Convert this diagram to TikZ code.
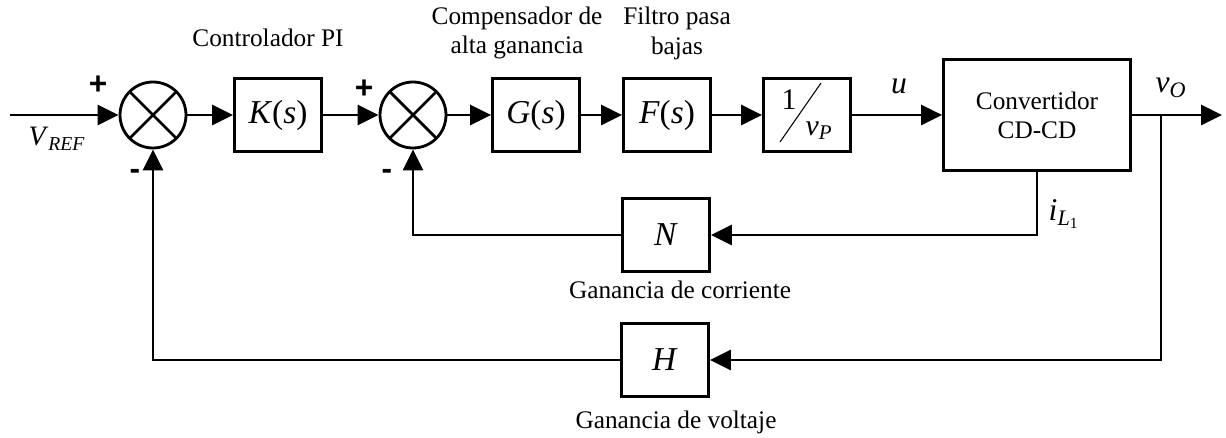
\documentclass[tikz,border=0pt]{standalone}
\usepackage{fontspec}
\setmainfont{Liberation Serif}
\newfontfamily\signfont{Liberation Sans}
\usetikzlibrary{arrows.meta,calc}

\begin{document}
\begin{tikzpicture}[
    x=0.02cm, y=-0.02cm, line width=1.6pt,
    >={Triangle[length=0.42cm,width=0.4cm]},
    block/.style={rectangle, draw, line width=1.6pt, minimum width=1.74cm, minimum height=1.46cm, inner sep=0pt, font=\fontsize{19}{22}\selectfont},
    sumnode/.style={circle, draw, line width=1.6pt, minimum size=1.32cm, inner sep=0pt,
        path picture={\draw[line width=1.6pt] (path picture bounding box.north west) -- (path picture bounding box.south east)
            (path picture bounding box.north east) -- (path picture bounding box.south west);}},
    lbl/.style={font=\fontsize{14.4}{17}\selectfont, align=center, inner sep=0pt},
    var/.style={font=\fontsize{18}{20}\selectfont, inner sep=0pt},
    sign/.style={font=\signfont\bfseries\fontsize{18}{18}\selectfont, inner sep=0pt}
]
\useasboundingbox (0,0) rectangle (1226,438);

% Forward path
\coordinate (in) at (10,115);
\node[sumnode] (s1) at (153,115) {};
\node[block] (K) at (278,115) {\textit{K}(\textit{s})};
\node[sumnode] (s2) at (413,115) {};
\node[block] (G) at (536,115) {\textit{G}(\textit{s})};
\node[block] (F) at (667,115) {\textit{F}(\textit{s})};
\node[block, font=\fontsize{17}{20}\selectfont] (P) at (807,115)
    {\raisebox{0.4em}{1}\hspace{0.3em}\raisebox{-0.45em}{\textit{v}\textsubscript{\textit{P}}}};
\draw[line width=0.6pt] ($(P)+(-27,27)$) -- ($(P)+(14,-32)$);
\node[block, minimum width=3.74cm, minimum height=2.22cm, font=\fontsize{14.4}{16.5}\selectfont, align=center] (C) at (1037,115)
    {Convertidor\\CD-CD};
\coordinate (br) at (1161,115);
\coordinate (out) at (1222,115);

% Feedback
\node[block] (N) at (666,235) {\textit{N}};
\node[block] (H) at (665,360) {\textit{H}};

\draw[->] (in) -- (s1);
\draw[->] (s1) -- (K);
\draw[->] (K) -- (s2);
\draw[->] (s2) -- (G);
\draw[->] (G) -- (F);
\draw[->] (F) -- (P);
\draw[->] (P) -- (C);
\draw[->] (C) -- (out);
\draw[->] (br) |- (H);
\draw[->] (H) -| (s1);
\draw[->] (C.south) |- (N);
\draw[->] (N) -| (s2);

% Signs
\node[sign] (p1) at (98,85) {+};
\node[sign] (m1) at (135,174) {-};
\node[sign] (p2) at (364,89) {+};
\node[sign] (m2) at (387,174) {-};

% Signals
\node[var, font=\fontsize{16}{18}\selectfont] (vref) at (57,139) {\textit{V}\textsubscript{\textit{REF}}};
\node[var] (u) at (899,86) {\textit{u}};
\node[var] (vo) at (1171,88) {\textit{v}\textsubscript{\textit{O}}};
\node[var] (il) at (1064,214) {\textit{i}\textsubscript{\textit{L}\textsubscript{1}}};

% Labels
\node[lbl] (tK) at (268,38) {Controlador PI};
\node[lbl] (tG) at (517,33) {Compensador de\\alta ganancia};
\node[lbl] (tF) at (677,33) {Filtro pasa\\bajas};
\node[lbl] (tN) at (680,290) {Ganancia de corriente};
\node[lbl] (tH) at (676,422) {Ganancia de voltaje};
\end{tikzpicture}
\end{document}
